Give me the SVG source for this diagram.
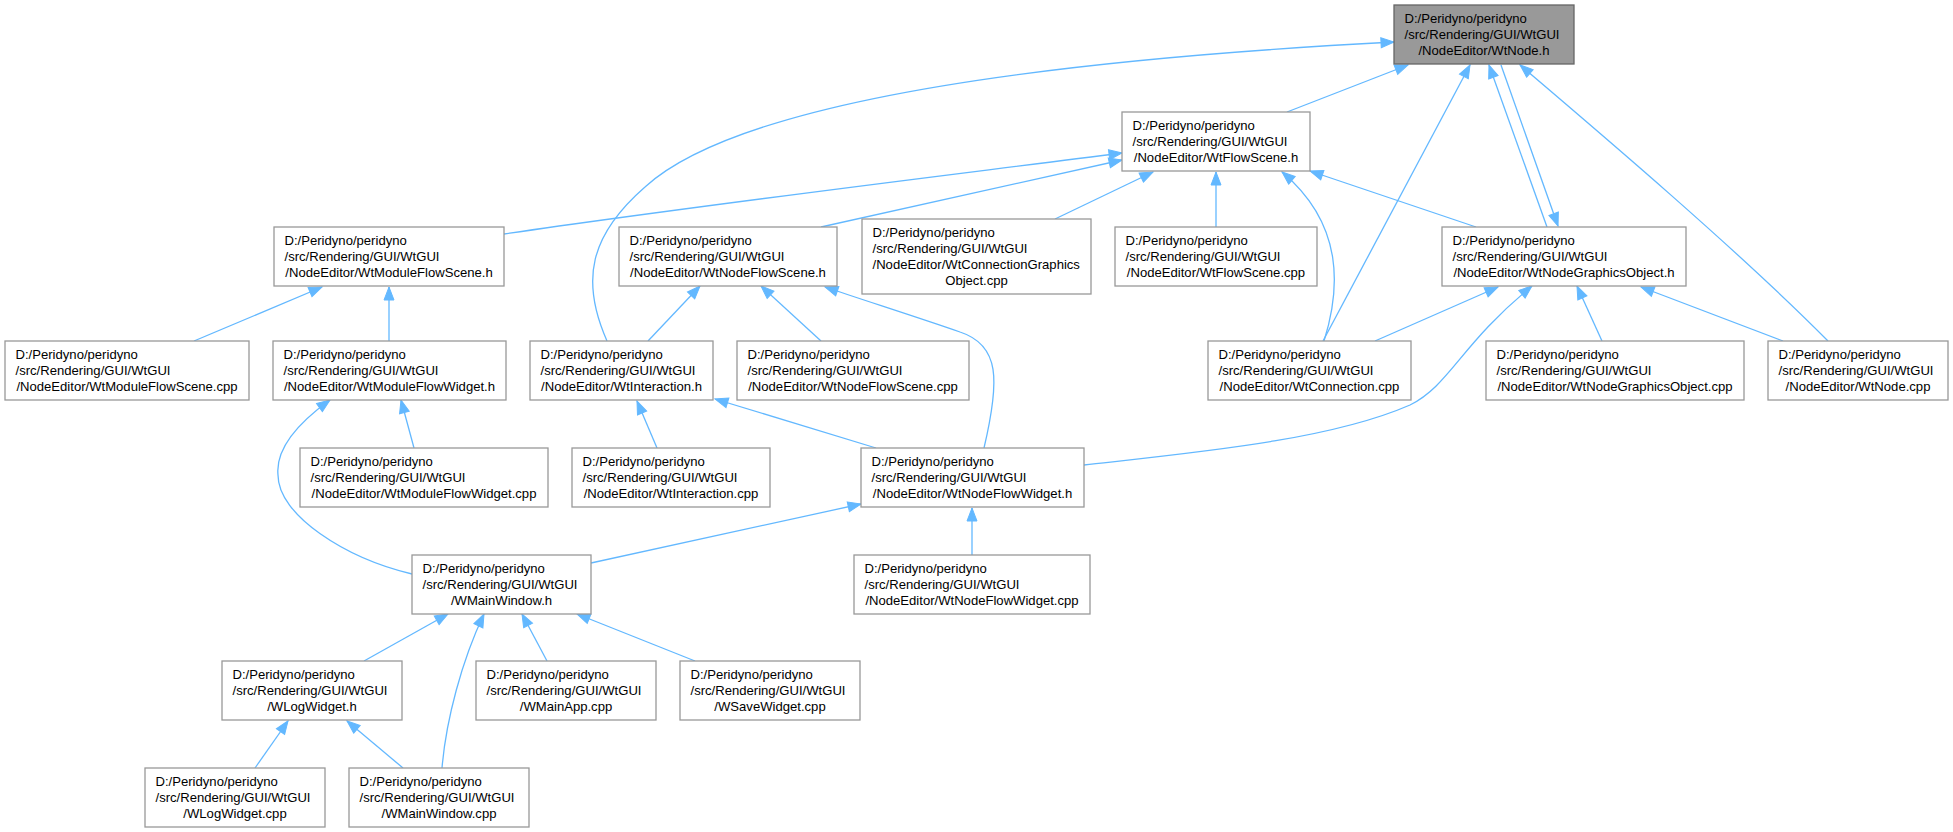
<svg xmlns="http://www.w3.org/2000/svg" width="1953" height="832" viewBox="0 0 1953 832">
<style>
.n rect{fill:#ffffff;stroke:#999999;stroke-width:1.3}
#n0 rect{fill:#999999;stroke:#666666}
text{font-family:"Liberation Sans",Arial,Helvetica,sans-serif;font-size:13.1px;fill:#000000}
.c{text-anchor:middle}
#edges path{fill:none;stroke:#63b8ff;stroke-width:1.3;marker-end:url(#a)}
</style>
<defs>
<marker id="a" markerUnits="userSpaceOnUse" viewBox="0 0 14 10" markerWidth="14" markerHeight="10" refX="13" refY="5" orient="auto" overflow="visible">
<path d="M0,0 L13,5 L0,10 z" fill="#63b8ff" stroke="#63b8ff" stroke-width="1"/>
</marker>
</defs>
<rect width="1953" height="832" fill="#ffffff"/>
<g id="edges">
<path d="M607,341 C580,280 590,235 645,187 C740,100 1050,60 1394,42"/>
<path d="M1287,112 L1408,65"/>
<path d="M1323,341 L1470,65"/>
<path d="M1547,227 L1489,65"/>
<path d="M1501,65 L1558,226"/>
<path d="M1828,341 C1740,252 1600,133 1520,65"/>
<path d="M504,234 C700,205 950,175 1122,153"/>
<path d="M821,227 L1122,160"/>
<path d="M1055,219 L1153,172"/>
<path d="M1216,227 L1216,172"/>
<path d="M1324,341 C1340,290 1345,225 1282,172"/>
<path d="M1476,227 L1310,171"/>
<path d="M194,341 L322,287"/>
<path d="M389,341 L389,287"/>
<path d="M648,341 L700,286"/>
<path d="M821,341 L761,286"/>
<path d="M984,448 C1000,380 1000,345 960,332 C920,318 860,299 825,287"/>
<path d="M1375,341 L1498,287"/>
<path d="M1084,465 C1200,452 1330,440 1410,405 C1450,385 1460,345 1532,286"/>
<path d="M1602,341 L1577,286"/>
<path d="M1783,341 L1641,287"/>
<path d="M414,448 L401,400"/>
<path d="M412,574 C345,558 278,515 278,475 C275,445 305,418 330,400"/>
<path d="M657,448 L637,401"/>
<path d="M876,448 L715,399"/>
<path d="M591,563 L861,504"/>
<path d="M972,555 L972,508"/>
<path d="M364,661 L448,614"/>
<path d="M442,768 C446,720 462,660 484,614"/>
<path d="M547,661 L522,614"/>
<path d="M695,661 L577,614"/>
<path d="M255,768 L288,721"/>
<path d="M403,768 L347,721"/>
</g>
<g id="n0" class="n"><rect x="1394" y="5" width="180" height="59"/><text x="1404.5" y="22.5">D:/Peridyno/peridyno</text><text x="1404.5" y="38.5">/src/Rendering/GUI/WtGUI</text><text class="c" x="1484" y="54.5">/NodeEditor/WtNode.h</text></g>
<g id="n1" class="n"><rect x="1122" y="112" width="188" height="59"/><text x="1132.5" y="129.5">D:/Peridyno/peridyno</text><text x="1132.5" y="145.5">/src/Rendering/GUI/WtGUI</text><text class="c" x="1216" y="161.5">/NodeEditor/WtFlowScene.h</text></g>
<g id="n2" class="n"><rect x="274" y="227" width="230" height="59"/><text x="284.5" y="244.5">D:/Peridyno/peridyno</text><text x="284.5" y="260.5">/src/Rendering/GUI/WtGUI</text><text class="c" x="389" y="276.5">/NodeEditor/WtModuleFlowScene.h</text></g>
<g id="n3" class="n"><rect x="619" y="227" width="218" height="59"/><text x="629.5" y="244.5">D:/Peridyno/peridyno</text><text x="629.5" y="260.5">/src/Rendering/GUI/WtGUI</text><text class="c" x="728" y="276.5">/NodeEditor/WtNodeFlowScene.h</text></g>
<g id="n4" class="n"><rect x="862" y="219" width="229" height="75"/><text x="872.5" y="236.5">D:/Peridyno/peridyno</text><text x="872.5" y="252.5">/src/Rendering/GUI/WtGUI</text><text x="872.5" y="268.5">/NodeEditor/WtConnectionGraphics</text><text class="c" x="976.5" y="284.5">Object.cpp</text></g>
<g id="n5" class="n"><rect x="1115" y="227" width="202" height="59"/><text x="1125.5" y="244.5">D:/Peridyno/peridyno</text><text x="1125.5" y="260.5">/src/Rendering/GUI/WtGUI</text><text class="c" x="1216" y="276.5">/NodeEditor/WtFlowScene.cpp</text></g>
<g id="n6" class="n"><rect x="1442" y="227" width="244" height="59"/><text x="1452.5" y="244.5">D:/Peridyno/peridyno</text><text x="1452.5" y="260.5">/src/Rendering/GUI/WtGUI</text><text class="c" x="1564" y="276.5">/NodeEditor/WtNodeGraphicsObject.h</text></g>
<g id="n7" class="n"><rect x="5" y="341" width="244" height="59"/><text x="15.5" y="358.5">D:/Peridyno/peridyno</text><text x="15.5" y="374.5">/src/Rendering/GUI/WtGUI</text><text class="c" x="127" y="390.5">/NodeEditor/WtModuleFlowScene.cpp</text></g>
<g id="n8" class="n"><rect x="273" y="341" width="233" height="59"/><text x="283.5" y="358.5">D:/Peridyno/peridyno</text><text x="283.5" y="374.5">/src/Rendering/GUI/WtGUI</text><text class="c" x="389.5" y="390.5">/NodeEditor/WtModuleFlowWidget.h</text></g>
<g id="n9" class="n"><rect x="530" y="341" width="183" height="59"/><text x="540.5" y="358.5">D:/Peridyno/peridyno</text><text x="540.5" y="374.5">/src/Rendering/GUI/WtGUI</text><text class="c" x="621.5" y="390.5">/NodeEditor/WtInteraction.h</text></g>
<g id="n10" class="n"><rect x="737" y="341" width="232" height="59"/><text x="747.5" y="358.5">D:/Peridyno/peridyno</text><text x="747.5" y="374.5">/src/Rendering/GUI/WtGUI</text><text class="c" x="853" y="390.5">/NodeEditor/WtNodeFlowScene.cpp</text></g>
<g id="n11" class="n"><rect x="1208" y="341" width="203" height="59"/><text x="1218.5" y="358.5">D:/Peridyno/peridyno</text><text x="1218.5" y="374.5">/src/Rendering/GUI/WtGUI</text><text class="c" x="1309.5" y="390.5">/NodeEditor/WtConnection.cpp</text></g>
<g id="n12" class="n"><rect x="1486" y="341" width="258" height="59"/><text x="1496.5" y="358.5">D:/Peridyno/peridyno</text><text x="1496.5" y="374.5">/src/Rendering/GUI/WtGUI</text><text class="c" x="1615" y="390.5">/NodeEditor/WtNodeGraphicsObject.cpp</text></g>
<g id="n13" class="n"><rect x="1768" y="341" width="180" height="59"/><text x="1778.5" y="358.5">D:/Peridyno/peridyno</text><text x="1778.5" y="374.5">/src/Rendering/GUI/WtGUI</text><text class="c" x="1858" y="390.5">/NodeEditor/WtNode.cpp</text></g>
<g id="n14" class="n"><rect x="300" y="448" width="248" height="59"/><text x="310.5" y="465.5">D:/Peridyno/peridyno</text><text x="310.5" y="481.5">/src/Rendering/GUI/WtGUI</text><text class="c" x="424" y="497.5">/NodeEditor/WtModuleFlowWidget.cpp</text></g>
<g id="n15" class="n"><rect x="572" y="448" width="198" height="59"/><text x="582.5" y="465.5">D:/Peridyno/peridyno</text><text x="582.5" y="481.5">/src/Rendering/GUI/WtGUI</text><text class="c" x="671" y="497.5">/NodeEditor/WtInteraction.cpp</text></g>
<g id="n16" class="n"><rect x="861" y="448" width="223" height="59"/><text x="871.5" y="465.5">D:/Peridyno/peridyno</text><text x="871.5" y="481.5">/src/Rendering/GUI/WtGUI</text><text class="c" x="972.5" y="497.5">/NodeEditor/WtNodeFlowWidget.h</text></g>
<g id="n17" class="n"><rect x="412" y="555" width="179" height="59"/><text x="422.5" y="572.5">D:/Peridyno/peridyno</text><text x="422.5" y="588.5">/src/Rendering/GUI/WtGUI</text><text class="c" x="501.5" y="604.5">/WMainWindow.h</text></g>
<g id="n18" class="n"><rect x="854" y="555" width="236" height="59"/><text x="864.5" y="572.5">D:/Peridyno/peridyno</text><text x="864.5" y="588.5">/src/Rendering/GUI/WtGUI</text><text class="c" x="972" y="604.5">/NodeEditor/WtNodeFlowWidget.cpp</text></g>
<g id="n19" class="n"><rect x="222" y="661" width="180" height="59"/><text x="232.5" y="678.5">D:/Peridyno/peridyno</text><text x="232.5" y="694.5">/src/Rendering/GUI/WtGUI</text><text class="c" x="312" y="710.5">/WLogWidget.h</text></g>
<g id="n20" class="n"><rect x="476" y="661" width="180" height="59"/><text x="486.5" y="678.5">D:/Peridyno/peridyno</text><text x="486.5" y="694.5">/src/Rendering/GUI/WtGUI</text><text class="c" x="566" y="710.5">/WMainApp.cpp</text></g>
<g id="n21" class="n"><rect x="680" y="661" width="180" height="59"/><text x="690.5" y="678.5">D:/Peridyno/peridyno</text><text x="690.5" y="694.5">/src/Rendering/GUI/WtGUI</text><text class="c" x="770" y="710.5">/WSaveWidget.cpp</text></g>
<g id="n22" class="n"><rect x="145" y="768" width="180" height="59"/><text x="155.5" y="785.5">D:/Peridyno/peridyno</text><text x="155.5" y="801.5">/src/Rendering/GUI/WtGUI</text><text class="c" x="235" y="817.5">/WLogWidget.cpp</text></g>
<g id="n23" class="n"><rect x="349" y="768" width="180" height="59"/><text x="359.5" y="785.5">D:/Peridyno/peridyno</text><text x="359.5" y="801.5">/src/Rendering/GUI/WtGUI</text><text class="c" x="439" y="817.5">/WMainWindow.cpp</text></g>
</svg>
